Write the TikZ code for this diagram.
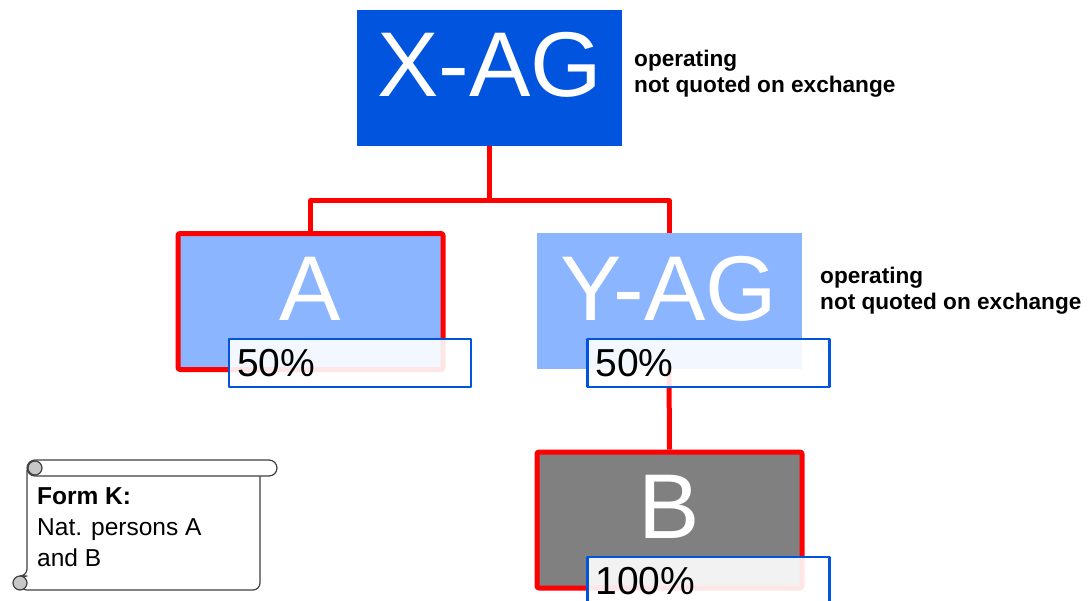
\documentclass[tikz,border=0pt]{standalone}
\usepackage{fontspec}
\setmainfont{Liberation Sans}
\usepackage{tikz}
\usetikzlibrary{calc}
\definecolor{qqaadd}{rgb}{0.,0.33,0.87}
\definecolor{bbccff}{rgb}{0.55,0.71,1.}
\definecolor{ffqqqq}{rgb}{1.,0.,0.}
\definecolor{eeeeee}{rgb}{0.5,0.5,0.5}
\definecolor{dddddd}{rgb}{0.78,0.78,0.78}
\tikzstyle{firm}=[minimum width=265pt,minimum height=136pt,inner sep=0pt,text depth=26pt,text=white,font=\fontsize{92}{92}\selectfont]
\tikzstyle{owned}=[firm,draw=ffqqqq,line width=5pt,rounded corners=2pt]
\tikzstyle{share}=[draw=qqaadd,line width=2.5pt,fill=white,fill opacity=0.9,text opacity=1,minimum height=48pt,text width=226pt,inner xsep=8pt,inner ysep=0pt,align=left,font=\fontsize{39}{39}\selectfont]
\tikzstyle{link}=[color=ffqqqq,line width=5pt]
\tikzstyle{note}=[anchor=west,align=left,inner sep=0pt,font=\bfseries\fontsize{22.6}{26}\selectfont]

\begin{document}
\begin{tikzpicture}[line cap=butt,line join=round,x=1pt,y=-1pt]
    \useasboundingbox (0,0) rectangle (1089,600);
    % companies
    \node [firm,fill=qqaadd] (xag) at (489.5,77.5) {X-AG};
    \node [owned,fill=bbccff] (a) at (310.5,301.5) {A};
    \node [firm,fill=bbccff] (yag) at (669,301) {Y-AG};
    \node [owned,fill=eeeeee] (b) at (669.5,520) {B};
    \node [note] (xnote) at (634,74) {operating\\not quoted on exchange};
    \node [note] (ynote) at (820,291) {operating\\not quoted on exchange};
    % holdings
    \draw [link] (xag.south) -- ++(0,55) -| (a.north);
    \draw [link] (xag.south) -- ++(0,55) -| (yag.north);
    \draw [link] (yag.south) -- (b.north);
    \node [share] (apct) at (350,363) {50\%};
    \node [share] (ypct) at (708.5,363) {50\%};
    \node [share] (bpct) at (708.5,581) {100\%};
    % scroll
    \begin{scope}[draw=black!75,line width=1.2pt]
        \draw [fill=white,rounded corners=7pt] (260,470) -- (260,590) -- (20,590) -- (20,576) -- (27,576) -- (27,470);
        \draw [fill=white,rounded corners=8pt] (27,460) rectangle (277,476);
        \draw [fill=dddddd] (35,468) circle (7);
        \draw [fill=dddddd] (20,583) circle (7);
    \end{scope}
    \node [anchor=north west,align=left,inner sep=0pt,font=\fontsize{24.5}{31}\selectfont] (formk) at (37,487) {\textbf{Form K:}\\Nat. persons A\\and B};
\end{tikzpicture}
\end{document}
